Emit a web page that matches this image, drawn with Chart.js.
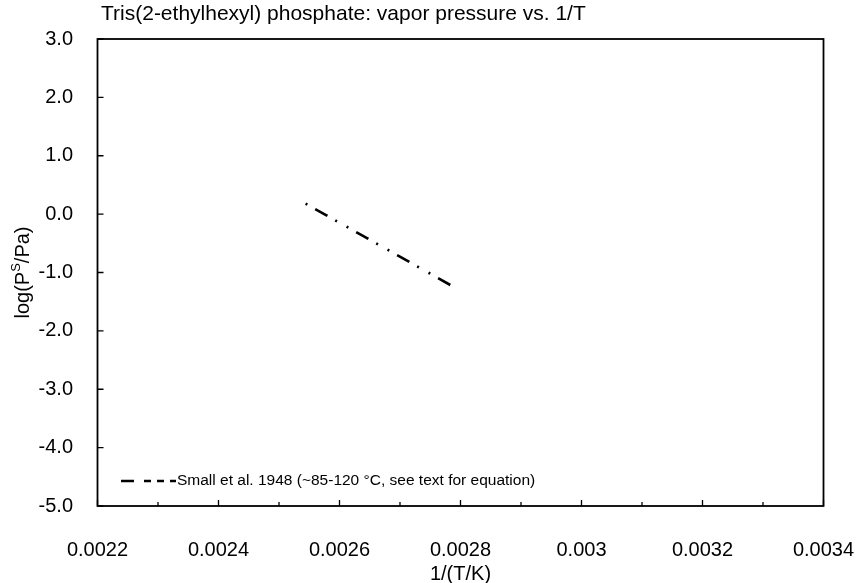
<!DOCTYPE html>
<html>
<head>
<meta charset="utf-8">
<script src="https://cdn.jsdelivr.net/npm/chart.js@4.4.1/dist/chart.umd.min.js"></script>
<style>
  html, body { margin: 0; padding: 0; background: #fff; }
  #wrap { width: 861px; height: 583px; }
</style>
</head>
<body>
<div id="wrap"><canvas id="chart" width="861" height="583"></canvas></div>
<script>
// Datos
const chartTitle = 'Tris(2-ethylhexyl) phosphate: vapor pressure vs. 1/T';
const seriesLabel = 'Small et al. 1948 (~85-120 °C, see text for equation)';
const invT = [0.002544, 0.002791];
const logP = [0.18, -1.26];
const xTickValues = [0.0022, 0.0024, 0.0026, 0.0028, 0.003, 0.0032, 0.0034];
const xTickLabels = ['0.0022', '0.0024', '0.0026', '0.0028', '0.003', '0.0032', '0.0034'];
const xMinorValues = [0.0023, 0.0025, 0.0027, 0.0029, 0.0031, 0.0033];
const yTickValues = [-5, -4, -3, -2, -1, 0, 1, 2, 3];

const FONT = "'Liberation Sans', Arial, sans-serif";

// Marco, marcas hacia adentro, títulos y leyenda
const decoraciones = {
    id: 'decoraciones',
    afterDraw(chart) {
        const ctx = chart.ctx;
        const a = chart.chartArea;
        const xs = chart.scales.x, ys = chart.scales.y;
        ctx.save();
        ctx.strokeStyle = '#000';
        ctx.lineWidth = 1.8;
        ctx.strokeRect(a.left, a.top, a.right - a.left, a.bottom - a.top);

        ctx.lineWidth = 1.3;
        ctx.beginPath();
        xTickValues.forEach(v => {
            const px = xs.getPixelForValue(v);
            ctx.moveTo(px, a.bottom); ctx.lineTo(px, a.bottom - 6);
        });
        xMinorValues.forEach(v => {
            const px = xs.getPixelForValue(v);
            ctx.moveTo(px, a.bottom); ctx.lineTo(px, a.bottom - 4);
        });
        yTickValues.forEach(v => {
            const py = ys.getPixelForValue(v);
            ctx.moveTo(a.left, py); ctx.lineTo(a.left + 6, py);
        });
        ctx.stroke();

        // título
        ctx.fillStyle = '#000';
        ctx.font = '21px ' + FONT;
        ctx.textAlign = 'left';
        ctx.textBaseline = 'middle';
        ctx.fillText(chartTitle, 101, 14);

        // título eje x
        ctx.font = '20px ' + FONT;
        ctx.textAlign = 'center';
        ctx.fillText('1/(T/K)', (a.left + a.right) / 2, 574);

        // título eje y con superíndice
        ctx.save();
        ctx.translate(23, (a.top + a.bottom) / 2);
        ctx.rotate(-Math.PI / 2);
        const p1 = 'log(P', sup = 'S', p2 = '/Pa)';
        ctx.font = '20px ' + FONT;
        const w1 = ctx.measureText(p1).width, w2 = ctx.measureText(p2).width;
        ctx.font = '13px ' + FONT;
        const ws = ctx.measureText(sup).width;
        const x0 = -(w1 + ws + w2) / 2;
        ctx.textAlign = 'left';
        ctx.font = '20px ' + FONT;
        ctx.fillText(p1, x0, 0);
        ctx.font = '13px ' + FONT;
        ctx.fillText(sup, x0 + w1, -7);
        ctx.font = '20px ' + FONT;
        ctx.fillText(p2, x0 + w1 + ws, 0);
        ctx.restore();

        // leyenda
        const ly = 481;
        ctx.lineWidth = 2.5;
        ctx.setLineDash([13, 10, 7, 6, 7, 6, 7, 200]);
        ctx.beginPath();
        ctx.moveTo(121, ly); ctx.lineTo(176, ly);
        ctx.stroke();
        ctx.setLineDash([]);
        ctx.font = '15.5px ' + FONT;
        ctx.textAlign = 'left';
        ctx.fillText(chart.data.datasets[0].label, 177, ly);
        ctx.restore();
    }
};

function initChart() {
    const ctx = document.getElementById('chart').getContext('2d');
    new Chart(ctx, {
        type: 'line',
        data: {
            datasets: [{
                label: seriesLabel,
                data: invT.map((x, i) => ({ x: x, y: logP[i] })),
                borderColor: '#000',
                borderWidth: 2.6,
                borderDash: [14, 9, 2, 11, 2, 9],
                borderDashOffset: 36,
                pointRadius: 0,
                fill: false,
                tension: 0
            }]
        },
        options: {
            responsive: false,
            animation: false,
            devicePixelRatio: 1,
            layout: { padding: { top: 39, right: 37.5, bottom: 0, left: 0 } },
            plugins: {
                legend: { display: false },
                title: { display: false },
                tooltip: { enabled: false }
            },
            scales: {
                x: {
                    type: 'linear',
                    min: 0.0022,
                    max: 0.0034,
                    grid: { display: false },
                    border: { display: false },
                    afterBuildTicks: s => { s.ticks = xTickValues.map(v => ({ value: v })); },
                    afterFit: s => { s.height = 77; s.paddingLeft = 0; s.paddingRight = 0; },
                    ticks: {
                        color: '#000',
                        font: { family: FONT, size: 20 },
                        padding: 24,
                        maxRotation: 0,
                        autoSkip: false,
                        callback: (v, i) => xTickLabels[i]
                    }
                },
                y: {
                    type: 'linear',
                    min: -5,
                    max: 3,
                    grid: { display: false },
                    border: { display: false },
                    afterBuildTicks: s => { s.ticks = yTickValues.map(v => ({ value: v })); },
                    afterFit: s => { s.width = 97.5; s.paddingTop = 0; s.paddingBottom = 0; },
                    ticks: {
                        color: '#000',
                        font: { family: FONT, size: 20 },
                        padding: 16.5,
                        callback: v => v.toFixed(1)
                    }
                }
            }
        },
        plugins: [decoraciones]
    });
}

document.addEventListener('DOMContentLoaded', initChart);
</script>
</body>
</html>
